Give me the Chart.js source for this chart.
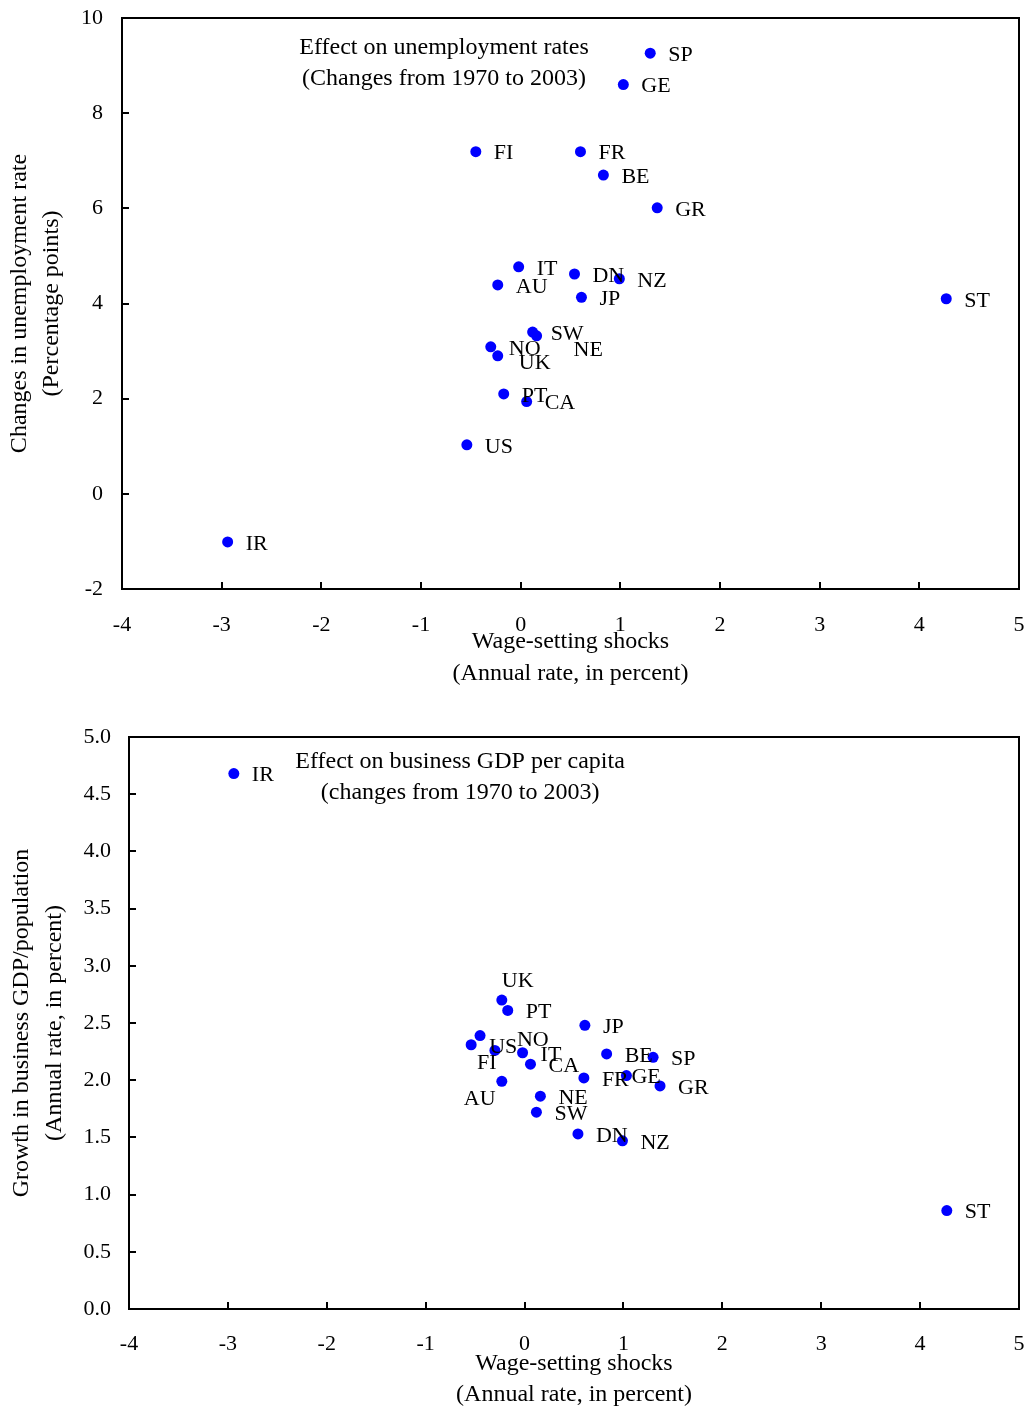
<!DOCTYPE html>
<html><head><meta charset="utf-8">
<script src="https://cdn.jsdelivr.net/npm/chart.js@4.4.1/dist/chart.umd.min.js"></script>
<style>
html,body{margin:0;padding:0;background:#fff;}
canvas{display:block;}
</style></head><body>
<canvas id="c1" width="1026" height="703"></canvas>
<canvas id="c2" width="1026" height="703"></canvas>
<script>
// ---- data ----
const countries   = ['SP','GE','FI','FR','BE','GR','IT','DN','NZ','AU','JP','ST','SW','NE','NO','UK','PT','CA','US','IR'];
const wageShocks  = [1.30,1.03,-0.45,0.60,0.83,1.37,-0.02,0.54,0.99,-0.23,0.61,4.27,0.12,0.16,-0.30,-0.23,-0.17,0.06,-0.54,-2.94];
const unempChange = [9.26,8.60,7.19,7.19,6.70,6.01,4.77,4.62,4.52,4.39,4.13,4.10,3.40,3.32,3.09,2.90,2.10,1.94,1.03,-1.01];
const gdpGrowth   = [2.20,2.04,2.39,2.02,2.23,1.95,2.24,1.53,1.47,1.99,2.48,0.86,1.72,1.86,2.26,2.70,2.61,2.14,2.31,4.68];
const xTickValues  = [-4,-3,-2,-1,0,1,2,3,4,5];
const yTicksUnemp  = [-2,0,2,4,6,8,10];
const yTicksGdp    = [0.0,0.5,1.0,1.5,2.0,2.5,3.0,3.5,4.0,4.5,5.0];
const titleUnemp   = ['Effect on unemployment rates','(Changes from 1970 to 2003)'];
const titleGdp     = ['Effect on business GDP per capita','(changes from 1970 to 2003)'];
const yTitleUnemp  = ['Changes in unemployment rate','(Percentage points)'];
const yTitleGdp    = ['Growth in business GDP/population','(Annual rate, in percent)'];
const xTitle       = ['Wage-setting shocks','(Annual rate, in percent)'];

// ---- style ----
const FONT = '"Liberation Serif", "Times New Roman", serif';
const BLUE = '#0000FF';

const boxPlugin = {
  id: 'boxTicks',
  afterDraw(chart) {
    const ctx = chart.ctx, a = chart.chartArea;
    const xs = chart.scales.x, ys = chart.scales.y;
    ctx.save();
    ctx.strokeStyle = '#000';
    ctx.lineWidth = 2;
    ctx.strokeRect(a.left, a.top, a.right - a.left, a.bottom - a.top);
    ctx.beginPath();
    xs.ticks.forEach(t => {
      const px = Math.round(xs.getPixelForValue(t.value));
      ctx.moveTo(px, a.bottom); ctx.lineTo(px, a.bottom - 7);
    });
    ys.ticks.forEach(t => {
      const py = Math.round(ys.getPixelForValue(t.value));
      ctx.moveTo(a.left, py); ctx.lineTo(a.left + 7, py);
    });
    ctx.stroke();
    // in-plot caption
    const o = chart.options.plugins.boxTicks;
    ctx.fillStyle = '#000';
    ctx.font = '24px ' + FONT;
    ctx.textAlign = 'center';
    ctx.textBaseline = 'middle';
    o.caption.forEach((line, i) => {
      ctx.fillText(line, a.left + o.capX * (a.right - a.left), a.top + o.capY + i * o.capLH);
    });
    // point labels
    ctx.font = '22px ' + FONT;
    ctx.textAlign = 'left';
    const meta = chart.getDatasetMeta(0);
    meta.data.forEach((el, i) => {
      const name = countries[i];
      const off = o.offsets[name] || [18, 2];
      ctx.fillText(name, el.x + off[0], el.y + off[1]);
    });
    ctx.restore();
  }
};

function makeChart(id, yVals, yTicks, yMin, yMax, yFmt, cfg) {
  const data = countries.map((c, i) => ({x: wageShocks[i], y: yVals[i]}));
  return new Chart(document.getElementById(id), {
    type: 'scatter',
    data: { datasets: [{ data, backgroundColor: BLUE, borderWidth: 0, pointRadius: 5.5, pointHoverRadius: 5.5 }] },
    plugins: [boxPlugin],
    options: {
      responsive: false, animation: false,
      layout: { padding: { top: cfg.padTop, right: 7, bottom: 0, left: 0 } },
      plugins: {
        legend: { display: false }, tooltip: { enabled: false },
        boxTicks: { caption: cfg.caption, capX: cfg.capX, capY: cfg.capY, capLH: 31, offsets: cfg.offsets }
      },
      scales: {
        x: {
          type: 'linear', min: -4, max: 5,
          afterBuildTicks: s => { s.ticks = xTickValues.map(v => ({value: v})); },
          afterFit: s => { s.height = cfg.xH; s.paddingLeft = 0; s.paddingRight = 0; s.paddingTop = 0; s.paddingBottom = 0; },
          grid: { display: false, drawTicks: false }, border: { display: false },
          ticks: { color: '#000', font: { family: FONT, size: 22 }, padding: cfg.xPad, callback: v => String(v) },
          title: { display: true, text: xTitle, color: '#000', font: { family: FONT, size: 24, lineHeight: cfg.xTitleLH }, padding: { top: 0, bottom: cfg.xTitlePB } }
        },
        y: {
          type: 'linear', min: yMin, max: yMax,
          afterBuildTicks: s => { s.ticks = yTicks.map(v => ({value: v})); },
          afterFit: s => { s.width = cfg.yW; s.paddingLeft = 0; s.paddingRight = 0; s.paddingTop = 0; s.paddingBottom = 0; },
          grid: { display: false, drawTicks: false }, border: { display: false },
          ticks: { color: '#000', font: { family: FONT, size: 22 }, padding: cfg.yPad, callback: yFmt },
          title: { display: true, text: cfg.yTitle, color: '#000', font: { family: FONT, size: 24, lineHeight: cfg.yTitleLH }, padding: { top: cfg.yTitlePT, bottom: 0 } }
        }
      }
    }
  });
}

makeChart('c1', unempChange, yTicksUnemp, -2, 10, v => String(v), {
  padTop: 18, xH: 114, yW: 122, xPad: 23, yPad: 19,
  xTitleLH: '32px', xTitlePB: 13, yTitle: yTitleUnemp, yTitleLH: '32px', yTitlePT: 4,
  caption: titleUnemp, capX: 0.359, capY: 30,
  offsets: { NE: [37, 14], UK: [21, 7] }
});
makeChart('c2', gdpGrowth, yTicksGdp, 0, 5, v => Number(v).toFixed(1), {
  padTop: 34, xH: 97, yW: 129, xPad: 22, yPad: 18,
  xTitleLH: '31px', xTitlePB: -4, yTitle: yTitleGdp, yTitleLH: '33px', yTitlePT: 5,
  caption: titleGdp, capX: 0.372, capY: 25,
  offsets: { UK: [0, -19], FI: [-3, 28], NO: [22, -10], AU: [-38, 18], GE: [5, 2] }
});
</script>
</body></html>
